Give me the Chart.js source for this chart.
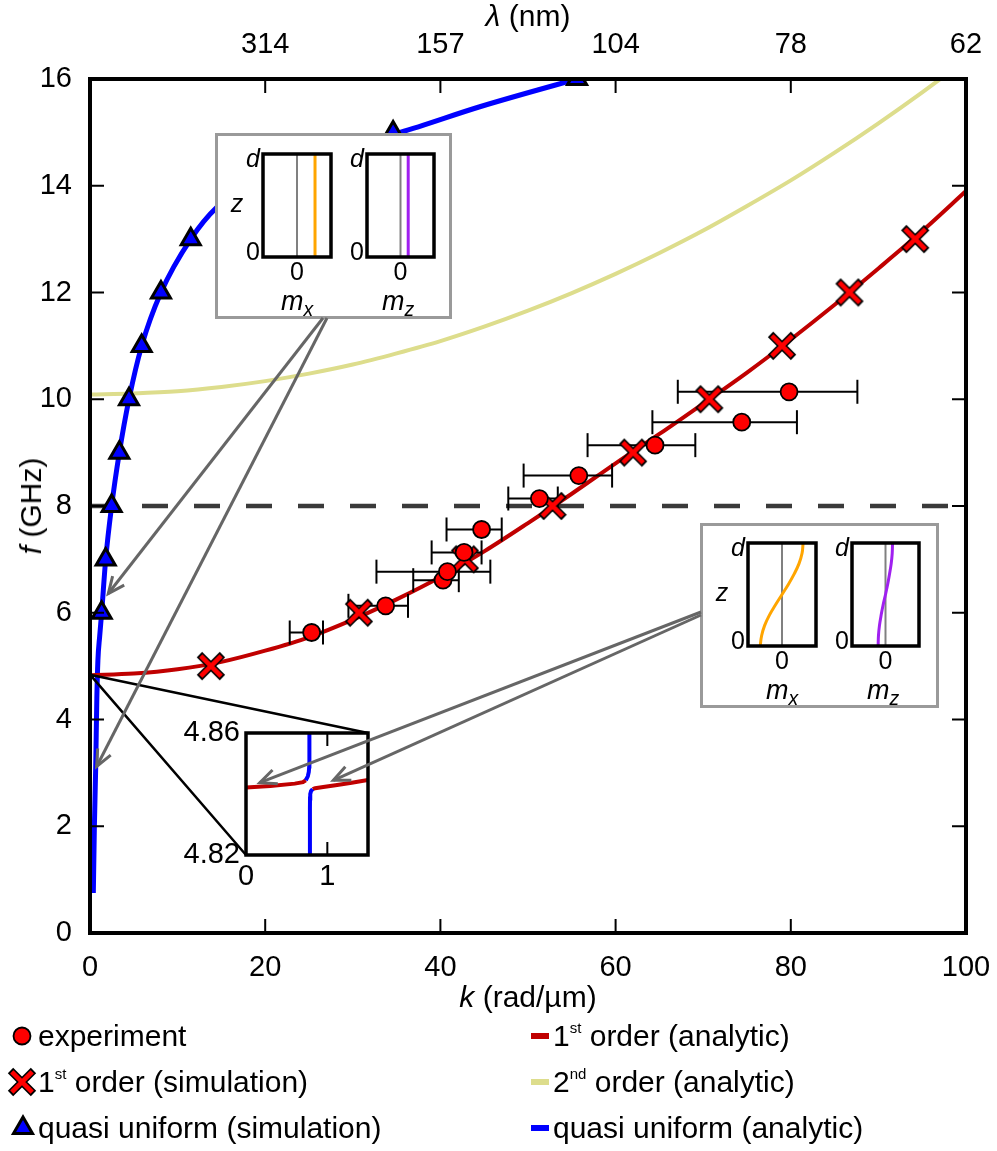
<!DOCTYPE html>
<html><head><meta charset="utf-8"><title>Dispersion</title>
<script src="https://cdn.jsdelivr.net/npm/chart.js@4/dist/chart.umd.min.js"></script>
<style>
html,body{margin:0;padding:0;background:#fff;}
#wrap{position:relative;width:997px;height:1151px;overflow:hidden;font-family:"Liberation Sans",Arial,Helvetica,sans-serif;color:#000;}
#wrap canvas{position:absolute;}
.t{position:absolute;white-space:nowrap;line-height:1;transform:translate(-50%,-50%);}
.l{position:absolute;white-space:nowrap;line-height:1;transform:translateY(-50%);font-size:30px;}
.box{position:absolute;border:3px solid #9a9a9a;background:#fff;box-sizing:border-box;}
.sp{font-size:0.5em;position:relative;top:-0.85em;}
.sb{font-size:0.72em;position:relative;top:0.3em;}
</style></head>
<body>
<div id="wrap">
  <canvas id="main" width="997" height="1151" style="left:0;top:0"></canvas>
</div>
<script>
// ================= DATA =================
const kTicks = [0, 20, 40, 60, 80, 100];
const lambdaTicks = ['', '314', '157', '104', '78', '62'];
const fTicks = [0, 2, 4, 6, 8, 10, 12, 14, 16];

// experiment (circles) with asymmetric k error bars
const expK     = [25.3, 33.75, 40.3, 40.8, 42.7, 44.7, 51.3, 55.8, 64.5, 74.4, 79.8];
const expF     = [5.63, 6.13, 6.61, 6.77, 7.13, 7.56, 8.14, 8.57, 9.14, 9.57, 10.14];
const expKLow  = [22.8, 29.5, 36.9, 32.7, 39.0, 40.7, 47.75, 49.5, 56.8, 64.2, 67.1];
const expKHigh = [26.6, 36.3, 42.1, 45.7, 44.7, 47.0, 53.4, 59.6, 69.1, 80.7, 87.6];

// 1st order (simulation) crosses
const sim1K = [13.8, 30.7, 42.8, 52.8, 62.0, 70.7, 79.0, 86.7, 94.2];
const sim1F = [5, 6, 7, 8, 9, 10, 11, 12, 13];

// quasi uniform (simulation) triangles
const quSimK = [1.33, 1.79, 2.47, 3.35, 4.45, 5.9, 8.1, 11.5, 34.6, 55.6];
const quSimF = [6, 7, 8, 9, 10, 11, 12, 13, 15, 16];

// 1st order (analytic)
const an1K = [0, 5, 10, 15, 20, 25, 30, 35, 40, 45, 50, 55, 60, 65, 70, 75, 80, 85, 90, 95, 100];
const an1F = [4.83, 4.86, 4.94, 5.08, 5.29, 5.54, 5.87, 6.25, 6.67, 7.15, 7.68, 8.23, 8.8, 9.35, 9.92, 10.5, 11.12, 11.77, 12.45, 13.15, 13.9];

// 2nd order (analytic)
const an2K = [0, 5, 10, 15, 20, 25, 30, 35, 40, 45, 50, 55, 60, 65, 70, 75, 80, 85, 90, 95, 100];
const an2F = [10.09, 10.11, 10.15, 10.23, 10.34, 10.48, 10.65, 10.86, 11.09, 11.36, 11.66, 11.99, 12.35, 12.74, 13.16, 13.62, 14.1, 14.62, 15.17, 15.75, 16.36];

// quasi uniform (analytic)
const quAnK = [0.38, 0.5, 0.65, 0.78, 0.9, 1.1, 1.33, 1.79, 2.47, 3.35, 4.45, 5.9, 8.1, 11.5, 14.5, 20, 27, 35.4, 44.5, 55.6, 60];
const quAnF = [0.75, 2.0, 3.1, 4.4, 5.1, 5.55, 6.0, 7.0, 8.0, 9.0, 10.0, 11.0, 12.0, 13.0, 13.6, 14.2, 14.65, 15.0, 15.48, 16.0, 16.2];

// dashed reference level
const refLevelF = 8;

// zoom inset (anticrossing)
const zKTicks = [0, 1];
const zFTicks = [4.82, 4.86];
const zUpRedK  = [0, 0.3, 0.6, 0.7, 0.735];
const zUpRedF  = [4.8421, 4.8426, 4.8434, 4.8439, 4.8445];
const zUpBlueK = [0.735, 0.76, 0.772, 0.777, 0.779, 0.78];
const zUpBlueF = [4.8445, 4.8458, 4.8472, 4.849, 4.853, 4.87];
const zLoBlueK = [0.785, 0.786, 0.787, 0.79, 0.80, 0.82];
const zLoBlueF = [4.81, 4.835, 4.8385, 4.8400, 4.8410, 4.8416];
const zLoRedK  = [0.82, 0.85, 0.95, 1.1, 1.3, 1.5];
const zLoRedF  = [4.8416, 4.8419, 4.8423, 4.8429, 4.8437, 4.8446];

// mode profiles (z from 0 to d)
const profZ = [0, 0.1, 0.2, 0.3, 0.4, 0.5, 0.6, 0.7, 0.8, 0.9, 1];
const mxQuasi = [0.53, 0.53, 0.53, 0.53, 0.53, 0.53, 0.53, 0.53, 0.53, 0.53, 0.53];
const mzQuasi = [0.23, 0.23, 0.23, 0.23, 0.23, 0.23, 0.23, 0.23, 0.23, 0.23, 0.23];
const mxFirst = [-0.64, -0.6, -0.51, -0.37, -0.19, 0, 0.19, 0.36, 0.5, 0.59, 0.62];
const mzFirst = [-0.22, -0.21, -0.18, -0.13, -0.07, 0, 0.065, 0.12, 0.17, 0.2, 0.21];
const zeroLine = [0, 0, 0, 0, 0, 0, 0, 0, 0, 0, 0];

// ================= STYLE =================
const FONT = '"Liberation Sans", Arial, Helvetica, sans-serif';
Chart.defaults.font.family = FONT;
Chart.defaults.color = '#000';
const RED_LINE = '#c00000', YEL = 'rgb(221,221,140)', BLUE = '#0000ff', ORANGE = '#ffa500', PURPLE = '#a020f0';
const wrap = document.getElementById('wrap');

function pts(xs, ys) { return xs.map((x, i) => ({x: x, y: ys[i]})); }

function makeCross() {
  const c = document.createElement('canvas'); c.width = 30; c.height = 30;
  const g = c.getContext('2d'); g.lineCap = 'butt';
  g.strokeStyle = '#000'; g.lineWidth = 7.6;
  g.beginPath(); g.moveTo(3.5, 3.5); g.lineTo(26.5, 26.5); g.moveTo(26.5, 3.5); g.lineTo(3.5, 26.5); g.stroke();
  g.strokeStyle = '#ff0000'; g.lineWidth = 4.6;
  g.beginPath(); g.moveTo(4.8, 4.8); g.lineTo(25.2, 25.2); g.moveTo(25.2, 4.8); g.lineTo(4.8, 25.2); g.stroke();
  return c;
}
const crossImg = makeCross();

const framePlugin = {
  id: 'frame',
  beforeDraw(chart, args, o) {
    if (!o.white) return;
    const a = chart.chartArea, ctx = chart.ctx;
    ctx.save(); ctx.fillStyle = '#fff'; ctx.fillRect(a.left, a.top, a.right - a.left, a.bottom - a.top); ctx.restore();
  },
  afterDatasetsDraw(chart, args, o) {
    const a = chart.chartArea, ctx = chart.ctx, s = chart.scales;
    ctx.save(); ctx.strokeStyle = '#000';
    ctx.lineWidth = o.tw || 2; const tl = o.tl || 14;
    ctx.beginPath();
    (o.xt || []).forEach(v => { const x = s.x.getPixelForValue(v);
      ctx.moveTo(x, a.bottom); ctx.lineTo(x, a.bottom - tl); ctx.moveTo(x, a.top); ctx.lineTo(x, a.top + tl); });
    (o.yt || []).forEach(v => { const y = s.y.getPixelForValue(v);
      ctx.moveTo(a.left, y); ctx.lineTo(a.left + tl, y); ctx.moveTo(a.right, y); ctx.lineTo(a.right - tl, y); });
    ctx.stroke();
    ctx.lineWidth = o.lw || 4;
    ctx.strokeRect(a.left, a.top, a.right - a.left, a.bottom - a.top);
    ctx.restore();
  }
};

// fix axis box sizes and drop automatic label overhang padding
function fixH(h) { return s => { s.height = h; s.paddingLeft = 0; s.paddingRight = 0; }; }
function fixW(w) { return s => { s.width = w; s.paddingTop = 0; s.paddingBottom = 0; }; }

// ================= MAIN CHART =================
const lineDS = (data, color, width, order, extra) => Object.assign({
  data: data, showLine: true, borderColor: color, borderWidth: width, pointRadius: 0,
  cubicInterpolationMode: 'monotone', fill: false, order: order, clip: 0
}, extra || {});

const errSets = expK.map((k, i) => ({
  data: [{x: expKLow[i], y: expF[i]}, {x: expKHigh[i], y: expF[i]}],
  showLine: true, borderColor: '#000', borderWidth: 2, pointStyle: 'line', pointRotation: 90,
  pointRadius: 12, pointBorderWidth: 2, pointBorderColor: '#000', order: 6, clip: 0
}));

const mainChart = new Chart(document.getElementById('main'), {
  type: 'scatter',
  data: { datasets: [
    lineDS([{x: 0, y: refLevelF}, {x: 100, y: refLevelF}], '#3a3a3a', 4.5, 10, {borderDash: [26, 26], cubicInterpolationMode: 'default'}),
    lineDS(pts(an2K, an2F), YEL, 4, 9),
    lineDS(pts(quAnK, quAnF), BLUE, 5, 8),
    lineDS(pts(an1K, an1F), RED_LINE, 4, 7),
    ...errSets,
    { data: pts(sim1K, sim1F), pointStyle: crossImg, pointRadius: 14, order: 5, clip: 0 },
    { data: pts(expK, expF), pointStyle: 'circle', pointRadius: 8.5, backgroundColor: '#ff0000',
      borderColor: '#000', borderWidth: 1.8, order: 4, clip: 0 },
    { data: pts(quSimK, quSimF), pointStyle: 'triangle', pointRadius: 11, backgroundColor: BLUE,
      borderColor: '#000', borderWidth: 3, order: 3, clip: 0 }
  ]},
  options: {
    responsive: false, devicePixelRatio: 1, animation: false, events: [],
    layout: { padding: { left: 0, right: 31, top: 0, bottom: 148 } },
    plugins: { legend: { display: false }, tooltip: { enabled: false },
      frame: { xt: kTicks, yt: fTicks, lw: 4, tl: 14, tw: 2 } },
    scales: {
      x: { type: 'linear', position: 'bottom', min: 0, max: 100,
        afterBuildTicks: s => { s.ticks = kTicks.map(v => ({value: v})); },
        ticks: { font: { size: 29 }, color: '#000', padding: 18, maxRotation: 0, autoSkip: false },
        grid: { display: false, drawTicks: false }, border: { display: false },
        afterFit: fixH(70) },
      xTop: { type: 'linear', position: 'top', axis: 'x', min: 0, max: 100,
        afterBuildTicks: s => { s.ticks = kTicks.map(v => ({value: v})); },
        ticks: { font: { size: 29 }, color: '#000', padding: 17, maxRotation: 0, autoSkip: false,
          callback: v => { const i = kTicks.indexOf(v); return i >= 0 ? lambdaTicks[i] : ''; } },
        grid: { display: false, drawTicks: false }, border: { display: false },
        afterFit: fixH(79) },
      y: { type: 'linear', min: 0, max: 16,
        afterBuildTicks: s => { s.ticks = fTicks.map(v => ({value: v})); },
        ticks: { font: { size: 29 }, color: '#000', padding: 18 },
        grid: { display: false, drawTicks: false }, border: { display: false },
        afterFit: fixW(90) }
    }
  },
  plugins: [framePlugin]
});

// ================= HTML helpers =================
function addDiv(cls, html, x, y, css) {
  const d = document.createElement('div'); d.className = cls; d.innerHTML = html;
  d.style.left = x + 'px'; d.style.top = y + 'px';
  if (css) d.style.cssText += css;
  wrap.appendChild(d); return d;
}
function addCanvas(left, top, w, h, z) {
  const c = document.createElement('canvas'); c.width = w; c.height = h;
  c.style.left = left + 'px'; c.style.top = top + 'px'; c.style.zIndex = z;
  wrap.appendChild(c); return c;
}

// axis titles
addDiv('t', '<i>λ</i> (nm)', 528, 16, 'font-size:30px;');
addDiv('t', '<i>k</i> (rad/µm)', 528, 997, 'font-size:30px;');
addDiv('t', '<i>f</i> (GHz)', 31, 506, 'font-size:30px;transform:translate(-50%,-50%) rotate(-90deg);');

// ================= MODE-PROFILE INSETS =================
addDiv('box', '', 215, 133, 'width:237px;height:186px;z-index:2;');
addDiv('box', '', 700, 523, 'width:239px;height:185px;z-index:2;');

function miniPanel(left, top, w, h, xs, color) {
  const c = addCanvas(left, top, w, h, 3);
  return new Chart(c, {
    type: 'scatter',
    data: { datasets: [
      lineDS(pts(zeroLine, profZ), '#808080', 2, 2, {cubicInterpolationMode: 'default'}),
      lineDS(pts(xs, profZ), color, 3, 1, {cubicInterpolationMode: 'default', tension: 0.4})
    ]},
    options: {
      responsive: false, devicePixelRatio: 1, animation: false, events: [],
      layout: { padding: 4 },
      plugins: { legend: { display: false }, tooltip: { enabled: false }, frame: { lw: 3.5 } },
      scales: { x: { type: 'linear', min: -1, max: 1, display: false },
                y: { type: 'linear', min: 0, max: 1, display: false } }
    },
    plugins: [framePlugin]
  });
}
miniPanel(259, 150, 76, 111, mxQuasi, ORANGE);
miniPanel(363, 150, 75, 111, mzQuasi, PURPLE);
miniPanel(744, 539, 76, 111, mxFirst, ORANGE);
miniPanel(848, 539, 75, 111, mzFirst, PURPLE);

function insetLabels(dx, dy, px1, px2) {
  const s = 'font-size:25px;z-index:4;';
  addDiv('t', '<i>d</i>', px1 - 10, dy + 4, s);
  addDiv('t', '<i>z</i>', px1 - 26, dy + 49, s);
  addDiv('t', '0', px1 - 10, dy + 97, s);
  addDiv('t', '<i>d</i>', px2 - 10, dy + 4, s);
  addDiv('t', '0', px2 - 10, dy + 97, s);
  addDiv('t', '0', dx, dy + 117, s);
  addDiv('t', '0', dx + 103.5, dy + 117, s);
  addDiv('t', '<i>m<span class="sb">x</span></i>', dx, dy + 147, 'font-size:27px;z-index:4;');
  addDiv('t', '<i>m<span class="sb">z</span></i>', dx + 101, dy + 147, 'font-size:27px;z-index:4;');
}
insetLabels(297, 154, 263, 367);
insetLabels(782, 543, 748, 852);

// ================= ZOOM INSET =================
const zc = addCanvas(170, 715, 210, 185, 2);
const zoomChart = new Chart(zc, {
  type: 'scatter',
  data: { datasets: [
    lineDS(pts(zUpRedK, zUpRedF), RED_LINE, 4, 2, {cubicInterpolationMode: 'default'}),
    lineDS(pts(zLoRedK, zLoRedF), RED_LINE, 4, 2, {cubicInterpolationMode: 'default'}),
    lineDS(pts(zUpBlueK, zUpBlueF), BLUE, 4, 1, {cubicInterpolationMode: 'default'}),
    lineDS(pts(zLoBlueK, zLoBlueF), BLUE, 4, 1, {cubicInterpolationMode: 'default'})
  ]},
  options: {
    responsive: false, devicePixelRatio: 1, animation: false, events: [],
    layout: { padding: { left: 0, top: 18, right: 12, bottom: 0 } },
    plugins: { legend: { display: false }, tooltip: { enabled: false },
      frame: { white: true, xt: [1], lw: 3.5, tl: 13, tw: 2 } },
    scales: {
      x: { type: 'linear', min: 0, max: 1.5,
        afterBuildTicks: s => { s.ticks = zKTicks.map(v => ({value: v})); },
        ticks: { font: { size: 29 }, color: '#000', padding: 5, maxRotation: 0, autoSkip: false },
        grid: { display: false, drawTicks: false }, border: { display: false },
        afterFit: fixH(45) },
      y: { type: 'linear', min: 4.82, max: 4.86,
        afterBuildTicks: s => { s.ticks = zFTicks.map(v => ({value: v})); },
        ticks: { font: { size: 29 }, color: '#000', padding: 6, callback: v => v.toFixed(2) },
        grid: { display: false, drawTicks: false }, border: { display: false },
        afterFit: fixW(76) }
    }
  },
  plugins: [framePlugin]
});

// ================= ANNOTATION OVERLAY (connectors, arrows, legend icons) =================
const ov = addCanvas(0, 0, 997, 1151, 6);
ov.style.pointerEvents = 'none';
const g = ov.getContext('2d');
const mx = mainChart.scales.x, my = mainChart.scales.y;
const zx = v => zoomChart.scales.x.getPixelForValue(v) + 170;
const zy = v => zoomChart.scales.y.getPixelForValue(v) + 715;

// connectors from the zoomed point on the main plot to the inset corners
g.strokeStyle = '#000'; g.lineWidth = 2.5;
g.beginPath();
g.moveTo(mx.getPixelForValue(0), my.getPixelForValue(4.84)); g.lineTo(zx(1.5), zy(4.86));
g.moveTo(mx.getPixelForValue(0), my.getPixelForValue(4.84)); g.lineTo(zx(0), zy(4.82));
g.stroke();

function arrow(x0, y0, x1, y1) {
  g.strokeStyle = '#666'; g.lineWidth = 3; g.lineCap = 'butt'; g.lineJoin = 'miter';
  g.beginPath(); g.moveTo(x0, y0); g.lineTo(x1, y1); g.stroke();
  const a = Math.atan2(y1 - y0, x1 - x0), L = 18, w = 0.42;
  g.beginPath();
  g.moveTo(x1 - L * Math.cos(a - w), y1 - L * Math.sin(a - w));
  g.lineTo(x1, y1);
  g.lineTo(x1 - L * Math.cos(a + w), y1 - L * Math.sin(a + w));
  g.stroke();
}
arrow(323, 318, mx.getPixelForValue(2.09), my.getPixelForValue(6.36));
arrow(327, 318, mx.getPixelForValue(0.76), my.getPixelForValue(3.12));
arrow(701, 612, zx(0.17), zy(4.8437));
arrow(701, 615, zx(1.074), zy(4.8445));

// ================= LEGEND =================
const legRows = [1036, 1082, 1128];
const legLeft = ['experiment', '1<span class="sp">st</span> order (simulation)', 'quasi uniform (simulation)'];
const legRight = ['1<span class="sp">st</span> order (analytic)', '2<span class="sp">nd</span> order (analytic)', 'quasi uniform (analytic)'];
const legColors = [RED_LINE, YEL, BLUE];
legRows.forEach((y, i) => {
  addDiv('l', legLeft[i], 38, y, 'z-index:7;');
  addDiv('l', legRight[i], 553, y, 'z-index:7;');
  g.fillStyle = legColors[i]; g.fillRect(531, y - 3, 18, 6);
});
// circle
g.beginPath(); g.arc(22, legRows[0], 8.5, 0, Math.PI * 2); g.fillStyle = '#ff0000'; g.fill();
g.lineWidth = 1.8; g.strokeStyle = '#000'; g.stroke();
// cross
g.drawImage(crossImg, 22 - 15, legRows[1] - 15);
// triangle
(function () { const r = 11, cx = 23, cy = legRows[2];
  g.beginPath();
  for (let j = 0; j < 3; j++) { const ang = j * 2 * Math.PI / 3;
    const px = cx + Math.sin(ang) * r, py = cy - Math.cos(ang) * r;
    if (j === 0) g.moveTo(px, py); else g.lineTo(px, py); }
  g.closePath(); g.fillStyle = BLUE; g.fill(); g.lineWidth = 3; g.lineJoin = 'miter'; g.strokeStyle = '#000'; g.stroke();
})();
</script>
</body></html>
